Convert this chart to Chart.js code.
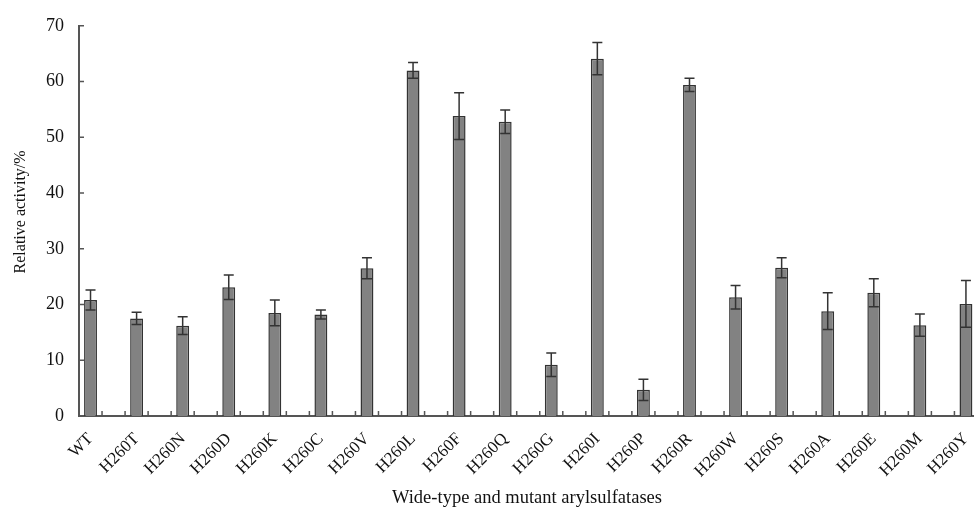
<!DOCTYPE html>
<html>
<head>
<meta charset="utf-8">
<script src="https://cdn.jsdelivr.net/npm/chart.js@4"></script>
<style>
  html, body { margin: 0; padding: 0; background: #fff; overflow: hidden; }
  #myChart { display: block; }
</style>
</head>
<body>
<canvas id="myChart" width="1003" height="507"></canvas>
<script>
const categories = ["WT", "H260T", "H260N", "H260D", "H260K", "H260C", "H260V", "H260L", "H260F", "H260Q",
  "H260G", "H260I", "H260P", "H260R", "H260W", "H260S", "H260A", "H260E", "H260M", "H260Y"];
const activity = [20.8, 17.5, 16.2, 23.1, 18.5, 18.2, 26.5, 62.0, 53.8, 52.8,
  9.2, 64.1, 4.7, 59.4, 21.3, 26.6, 18.8, 22.1, 16.3, 20.1];
const errors = [1.8, 1.1, 1.6, 2.2, 2.3, 0.8, 1.9, 1.4, 4.2, 2.1,
  2.1, 2.9, 1.9, 1.2, 2.1, 1.8, 3.3, 2.5, 2.0, 4.2];
const yTicks = [0, 10, 20, 30, 40, 50, 60, 70];

// each bar is followed by an empty slot, like the original sheet
let labels = [];
let values = [];
categories.forEach((c, i) => {
  labels.push(c, "");
  values.push(activity[i], null);
});

const font = "'Liberation Serif', 'Times New Roman', serif";

const extras = {
  id: "extras",
  afterDatasetsDraw(chart) {
    const { ctx, scales: { x, y } } = chart;
    ctx.save();
    ctx.strokeStyle = "#333";
    ctx.lineWidth = 1.5;
    activity.forEach((v, i) => {
      const px = x.getPixelForValue(i * 2);
      const top = y.getPixelForValue(v + errors[i]);
      const bot = y.getPixelForValue(v - errors[i]);
      ctx.beginPath();
      ctx.moveTo(px, top); ctx.lineTo(px, bot);
      ctx.moveTo(px - 5, top); ctx.lineTo(px + 5, top);
      ctx.moveTo(px - 5, bot); ctx.lineTo(px + 5, bot);
      ctx.stroke();
    });
    // inward tick marks
    ctx.strokeStyle = "#555";
    ctx.lineWidth = 1.5;
    ctx.beginPath();
    for (let k = 1; k < labels.length; k++) {
      const px = (x.getPixelForValue(k - 1) + x.getPixelForValue(k)) / 2;
      ctx.moveTo(px, y.bottom); ctx.lineTo(px, y.bottom - 5);
    }
    yTicks.forEach(t => {
      const py = y.getPixelForValue(t);
      ctx.moveTo(x.left, py); ctx.lineTo(x.left + 5, py);
    });
    ctx.stroke();
    // axis titles
    ctx.fillStyle = "#111";
    ctx.font = "18.5px " + font;
    ctx.textAlign = "center";
    ctx.textBaseline = "alphabetic";
    ctx.fillText("Wide-type and mutant arylsulfatases", 527, 503);
    ctx.translate(21, (y.top + y.bottom) / 2 - 9);
    ctx.rotate(-Math.PI / 2);
    ctx.font = "16px " + font;
    ctx.textBaseline = "middle";
    ctx.fillText("Relative activity/%", 0, 0);
    ctx.restore();
  }
};

const ctx = document.getElementById("myChart");
new Chart(ctx, {
  type: "bar",
  data: {
    labels: labels,
    datasets: [{
      data: values,
      backgroundColor: "#828282",
      borderColor: "#333",
      borderWidth: 1.5,
      barPercentage: 0.56,
      categoryPercentage: 1
    }]
  },
  options: {
    responsive: false,
    animation: false,
    devicePixelRatio: 1,
    // the plot runs a little past the right edge of the picture, as in the original
    layout: { padding: { top: 22, right: 2.5, left: 0, bottom: 0 } },
    plugins: { legend: { display: false }, tooltip: { enabled: false } },
    scales: {
      x: {
        grid: { display: false, drawTicks: false },
        border: { display: true, color: "#555", width: 2 },
        ticks: {
          autoSkip: false, maxRotation: 45, minRotation: 45,
          padding: 13, color: "#111", font: { family: font, size: 17 }
        },
        afterFit: s => { s.height = 91; s.paddingRight = 0; s.paddingLeft = 0; }
      },
      y: {
        min: 0, max: 70,
        afterBuildTicks: s => { s.ticks = yTicks.map(v => ({ value: v })); },
        grid: { display: false, drawTicks: false },
        border: { display: true, color: "#555", width: 2 },
        ticks: { padding: 15, color: "#111", font: { family: font, size: 18 } },
        afterFit: s => { s.width = 79; }
      }
    }
  },
  plugins: [extras]
});
</script>
</body>
</html>
